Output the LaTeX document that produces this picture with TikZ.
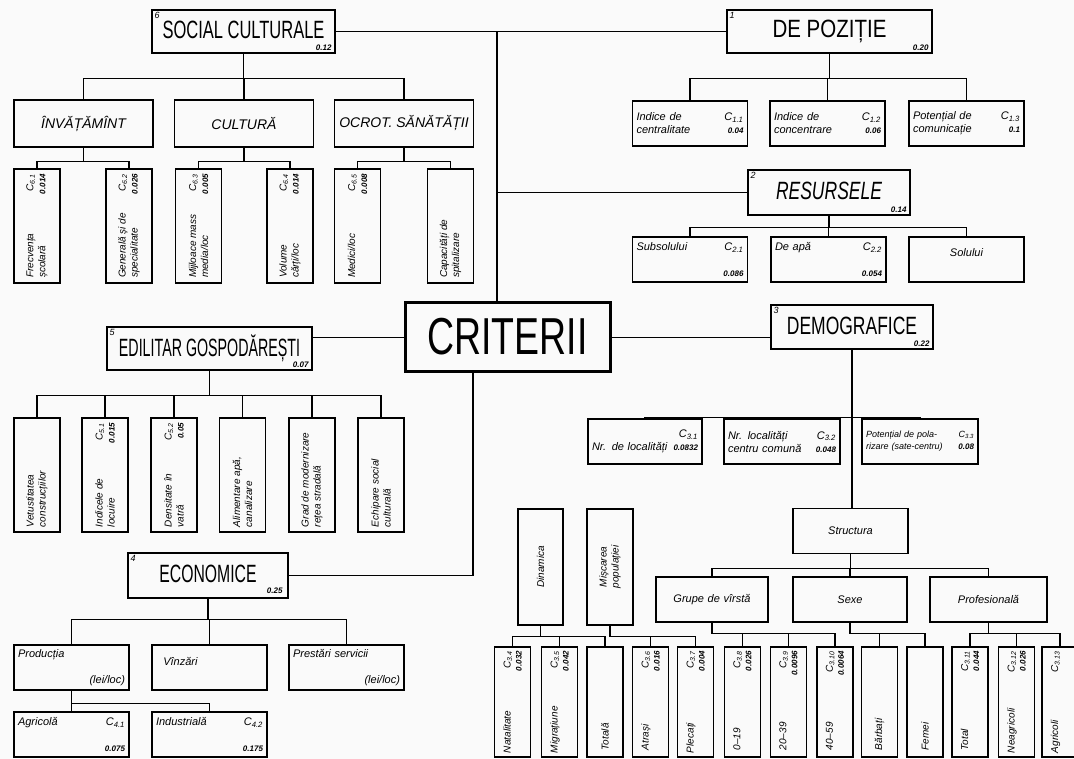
\documentclass[tikz,border=0pt]{standalone}
\usepackage{fontspec}
\setmainfont{Liberation Sans}
\usepackage{graphicx}

\newcommand{\cnd}[2][0.7]{\raisebox{3pt}{\scalebox{#1}[1]{#2}}}
\newcommand{\vlab}[2][104pt]{\rotatebox{90}{\parbox{#1}{#2}}}
\newcommand{\wf}{\fontsize{8}{8}\selectfont\bfseries}
\newcommand{\cc}[1]{C\textsubscript{#1}}

\tikzset{
  critbox/.style={draw, line width=3pt, minimum width=205pt, minimum height=69pt, inner sep=0pt,
    font=\fontsize{52}{52}\selectfont},
  headbox/.style={draw, line width=1.4pt, inner sep=0pt, font=\fontsize{25}{25}\selectfont},
  midbox/.style={draw, line width=1.3pt, minimum width=139pt, minimum height=47pt, inner sep=0pt,
    font=\fontsize{14}{16}\selectfont\itshape},
  subbox/.style={draw, line width=1.3pt, minimum width=115pt, minimum height=45pt, inner sep=3pt,
    text width=107pt, font=\fontsize{11}{13}\selectfont\itshape},
  vbox/.style={draw, line width=1.3pt, minimum width=46pt, minimum height=114pt, inner sep=0pt,
    font=\fontsize{10}{12}\selectfont\itshape},
  tbox/.style={draw, line width=1.3pt, minimum width=36pt, minimum height=110pt, inner sep=0pt,
    font=\fontsize{10}{11}\selectfont\itshape},
  numtxt/.style={inner sep=0pt, font=\fontsize{9}{9}\selectfont\itshape},
  wttxt/.style={inner sep=0pt, font=\fontsize{8}{8}\selectfont\bfseries\itshape},
  link/.style={line width=1.1pt},
}

\begin{document}
\begin{tikzpicture}[x=1pt, y=-1pt]
    \fill[gray!4] (0,0) rectangle (1074,759);
    \useasboundingbox (0,0) rectangle (1074,759);

    % criteria
    \node[critbox] (crit) at (507.5,337.5) {\cnd[0.72]{CRITERII}};
    \node[headbox, minimum width=183pt, minimum height=43pt] (soc) at (243.5,31.5) {\cnd[0.66]{SOCIAL CULTURALE}};
    \node[headbox, minimum width=205pt, minimum height=43pt] (poz) at (829.5,31.5) {\cnd[0.82]{DE POZIȚIE}};
    \node[headbox, minimum width=162pt, minimum height=45pt] (res) at (829,192.5) {\cnd[0.7]{\itshape RESURSELE}};
    \node[headbox, minimum width=205pt, minimum height=43pt] (edil) at (209.5,348.5) {\cnd[0.57]{EDILITAR GOSPODĂREȘTI}};
    \node[headbox, minimum width=162pt, minimum height=44pt] (demo) at (852,327) {\cnd[0.7]{DEMOGRAFICE}};
    \node[headbox, minimum width=160pt, minimum height=45pt] (econ) at (208,575.5) {\cnd[0.63]{ECONOMICE}};

    % numbers and weights
    \node[numtxt, anchor=north west] (soc-n) at ([shift={(3,3)}]soc.north west) {6};
    \node[wttxt, anchor=south east] (soc-w) at ([shift={(-4,-3)}]soc.south east) {0.12};
    \node[numtxt, anchor=north west] (poz-n) at ([shift={(3,3)}]poz.north west) {1};
    \node[wttxt, anchor=south east] (poz-w) at ([shift={(-4,-3)}]poz.south east) {0.20};
    \node[numtxt, anchor=north west] (res-n) at ([shift={(3,3)}]res.north west) {2};
    \node[wttxt, anchor=south east] (res-w) at ([shift={(-4,-3)}]res.south east) {0.14};
    \node[numtxt, anchor=north west] (demo-n) at ([shift={(3,3)}]demo.north west) {3};
    \node[wttxt, anchor=south east] (demo-w) at ([shift={(-4,-3)}]demo.south east) {0.22};
    \node[numtxt, anchor=north west] (econ-n) at ([shift={(3,3)}]econ.north west) {4};
    \node[wttxt, anchor=south east] (econ-w) at ([shift={(-6,-5)}]econ.south east) {0.25};
    \node[numtxt, anchor=north west] (edil-n) at ([shift={(3,3)}]edil.north west) {5};
    \node[wttxt, anchor=south east] (edil-w) at ([shift={(-4,-3)}]edil.south east) {0.07};

    % trunk
    \coordinate (hub) at (497,31.5);
    \coordinate (low) at (473,577);
    \draw[link] (soc.east) -- (poz.west);
    \draw[link] (hub) -- (hub |- crit.north);
    \draw[link] (hub |- res.west) -- (res.west);
    \draw[link] (crit.west) -- (crit.west -| edil.east);
    \draw[link] (crit.east) -- (crit.east -| demo.west);
    \draw[link] (crit.south -| low) |- (econ.east);

    % social culturale
    \node[midbox] (inv) at (83.5,123.5) {ÎNVĂȚĂMÎNT};
    \node[midbox] (cult) at (244,123.5) {CULTURĂ};
    \node[midbox] (ocr) at (404,123.5) {OCROT. SĂNĂTĂȚII};
    \foreach \c in {inv,cult,ocr}
        \draw[link] (soc.south) -- ++(0,25) -| (\c.north);

    \node[vbox] (inv1) at (37,226) {\vlab{Frecvența \hfill \cc{6.1}\\ școlară \hfill {\wf 0.014}}};
    \node[vbox] (inv2) at (129,226) {\vlab{Generală și de \hfill \cc{6.2}\\ specialitate \hfill {\wf 0.026}}};
    \node[vbox] (cult1) at (198.5,226) {\vlab{Mijloace mass \hfill \cc{6.3}\\ media/loc \hfill {\wf 0.005}}};
    \node[vbox] (cult2) at (290,226) {\vlab{Volume \hfill \cc{6.4}\\ cărți/loc \hfill {\wf 0.014}}};
    \node[vbox] (ocr1) at (357.5,226) {\vlab{Medici/loc \hfill \cc{6.5}\\ \null\hfill {\wf 0.008}}};
    \node[vbox] (ocr2) at (450.5,226) {\vlab{Capacități de\\ spitalizare}};
    \foreach \p/\c in {inv/inv1,inv/inv2,cult/cult1,cult/cult2,ocr/ocr1,ocr/ocr2}
        \draw[link] (\p.south) -- ++(0,14) -| (\c.north);

    % de pozitie
    \node[subbox] (poz1) at (690,123.5) {Indice de \hfill \cc{1.1}\\ centralitate \hfill {\wf 0.04}};
    \node[subbox] (poz2) at (827.5,123.5) {Indice de \hfill \cc{1.2}\\ concentrare \hfill {\wf 0.06}};
    \node[subbox] (poz3) at (966.5,123.5) {Potențial de \hfill \cc{1.3}\\ comunicație \hfill {\wf 0.1}};
    \foreach \c in {poz1,poz2,poz3}
        \draw[link] (poz.south) -- ++(0,25) -| (\c.north);

    % resursele
    \node[subbox] (res1) at (690,259.5) {Subsolului \hfill \cc{2.1}\\ \null\hfill {\wf 0.086}};
    \node[subbox] (res2) at (828.5,259.5) {De apă \hfill \cc{2.2}\\ \null\hfill {\wf 0.054}};
    \node[subbox] (res3) at (966.5,259.5) {\null\hfill Solului\hfill\null\\ \null};
    \foreach \c in {res1,res2,res3}
        \draw[link] (res.south) -- ++(0,12) -| (\c.north);

    % edilitar gospodaresti
    \node[vbox] (edil1) at (37,475) {\vlab{Vetustitatea\\ construcțiilor}};
    \node[vbox] (edil2) at (105,475) {\vlab{Indicele de \hfill \cc{5.1}\\ locuire \hfill {\wf 0.015}}};
    \node[vbox] (edil3) at (174,475) {\vlab{Densitate în \hfill \cc{5.2}\\ vatră \hfill {\wf 0.05}}};
    \node[vbox] (edil4) at (242.5,475) {\vlab{Alimentare apă,\\ canalizare}};
    \node[vbox] (edil5) at (312,475) {\vlab{Grad de modernizare\\ rețea stradală}};
    \node[vbox] (edil6) at (381,475) {\vlab{Echipare social\\ culturală}};
    \foreach \c in {edil1,edil2,edil3,edil4,edil5,edil6}
        \draw[link] (edil.south) -- ++(0,24.5) -| (\c.north);

    % economice
    \node[subbox] (prod) at (71.5,667.5) {Producția\\ \null\hfill (lei/loc)};
    \node[subbox] (vinz) at (209.5,667.5) {\ \ Vînzări\\ \null};
    \node[subbox] (prest) at (346.5,667.5) {Prestări servicii\\ \null\hfill (lei/loc)\hspace{12pt}};
    \foreach \c in {prod,vinz,prest}
        \draw[link] (econ.south) -- ++(0,21) -| (\c.north);
    \node[subbox] (agr) at (71.5,734.5) {Agricolă \hfill \cc{4.1}\\ \null\hfill {\wf 0.075}};
    \node[subbox] (ind) at (209.5,734.5) {Industrială \hfill \cc{4.2}\\ \null\hfill {\wf 0.175}};
    \foreach \c in {agr,ind}
        \draw[link] (prod.south) -- ++(0,13) -| (\c.north);

    % demografice
    \node[subbox, minimum width=114pt, text width=106pt] (dem1) at (645,441.5) {\null\hfill \cc{3.1}\\ Nr. de localități \hfill {\wf 0.0832}};
    \node[subbox, minimum width=116pt, text width=108pt] (dem2) at (782,441.5) {Nr. localități \hfill \cc{3.2}\\ centru comună \hfill {\wf 0.048}};
    \node[subbox, minimum width=116pt, text width=108pt, font=\fontsize{9}{12}\selectfont\itshape] (dem3) at (920,441.5) {Potențial de pola- \hfill \cc{3.3}\\ rizare (sate-centru) \hfill {\wf 0.08}};
    \foreach \c in {dem1,dem2,dem3}
        \draw[link] (demo.south) -- ++(0,68) -| (\c.north);

    \node[subbox, minimum width=115pt, text width=107pt, align=center] (struct) at (850.5,531) {Structura};
    \draw[link] (demo.south) -- (demo.south |- struct.north);

    \node[subbox, minimum width=112pt, text width=104pt, align=center] (grup) at (712,599.5) {Grupe de vîrstă};
    \node[subbox, minimum width=114pt, text width=106pt, align=center] (sexe) at (850,599.5) {Sexe};
    \node[subbox, minimum width=117pt, text width=109pt, align=center] (prof) at (988.5,599.5) {Profesională};
    \foreach \c in {grup,sexe,prof}
        \draw[link] (struct.south) -- ++(0,14) -| (\c.north);

    \node[vbox, minimum width=45pt, minimum height=116pt] (din) at (540.5,567) {\vlab[108pt]{\centering Dinamica}};
    \node[vbox, minimum width=46pt, minimum height=116pt] (misc) at (610,567) {\vlab[108pt]{\centering Mișcarea\\ populației}};

    % bottom row
    \node[tbox] (t1) at (512.5,702) {\vlab[102pt]{Natalitate \hfill \cc{3.4}\\ \null\hfill {\wf 0.032}}};
    \node[tbox] (t2) at (559.5,702) {\vlab[102pt]{Migrațiune \hfill \cc{3.5}\\ \null\hfill {\wf 0.042}}};
    \node[tbox] (t3) at (605,702) {\vlab[102pt]{\ Totală}};
    \node[tbox] (t4) at (650.5,702) {\vlab[102pt]{\ Atrași \hfill \cc{3.6}\\ \null\hfill {\wf 0.016}}};
    \node[tbox] (t5) at (695.5,702) {\vlab[102pt]{Plecați \hfill \cc{3.7}\\ \null\hfill {\wf 0.004}}};
    \node[tbox] (t6) at (742.5,702) {\vlab[102pt]{\ 0--19 \hfill \cc{3.8}\\ \null\hfill {\wf 0.026}}};
    \node[tbox] (t7) at (788.5,702) {\vlab[102pt]{\ 20--39 \hfill \cc{3.9}\\ \null\hfill {\wf 0.0096}}};
    \node[tbox] (t8) at (835,702) {\vlab[102pt]{\ 40--59 \hfill \cc{3.10}\\ \null\hfill {\wf 0.0064}}};
    \node[tbox] (t9) at (879.5,702) {\vlab[102pt]{\ Bărbați}};
    \node[tbox] (t10) at (925,702) {\vlab[102pt]{\ Femei}};
    \node[tbox] (t11) at (970,702) {\vlab[102pt]{\ Total \hfill \cc{3.11}\\ \null\hfill {\wf 0.044}}};
    \node[tbox] (t12) at (1016.5,702) {\vlab[102pt]{Neagricoli \hfill \cc{3.12}\\ \null\hfill {\wf 0.026}}};
    \node[tbox] (t13) at (1060,702) {\vlab[102pt]{Agricoli \hfill \cc{3.13}\\ \null}};
    \foreach \p/\c in {din/t1,din/t2,din/t3,misc/t4,misc/t5,grup/t6,grup/t7,grup/t8,sexe/t9,sexe/t10,prof/t11,prof/t12,prof/t13}
        \draw[link] (\p.south) -- ++(0,11) -| (\c.north);
\end{tikzpicture}
\end{document}
